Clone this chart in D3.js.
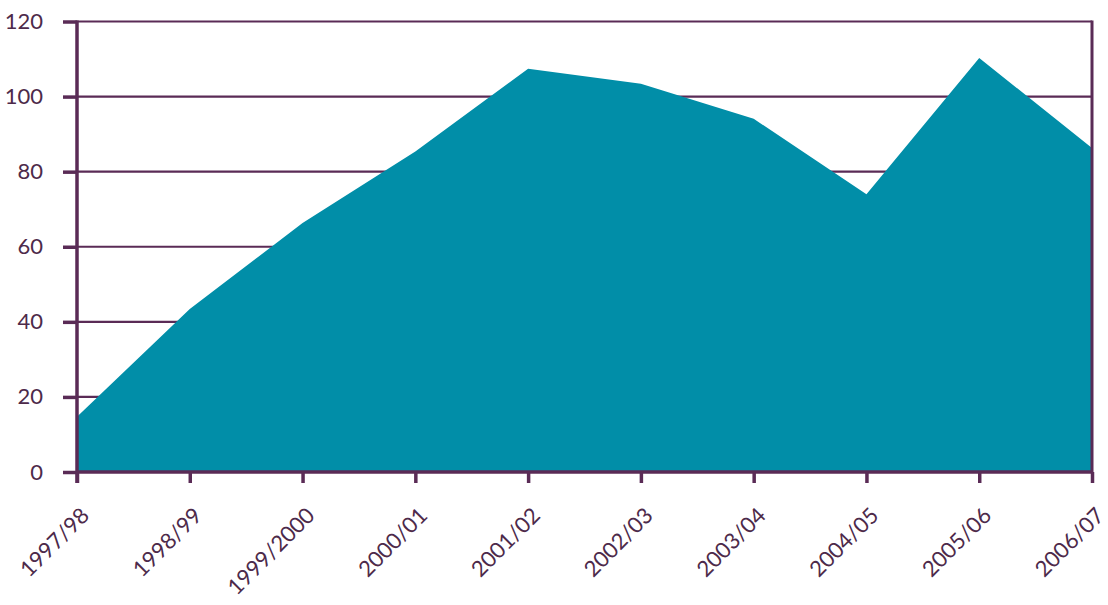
<!DOCTYPE html>
<html>
<head>
<meta charset="utf-8">
<script src="https://cdn.jsdelivr.net/npm/d3@7"></script>
<style>
  html, body { margin: 0; padding: 0; background: #fff; }
  svg text { font-family: Lato, "Open Sans", sans-serif; fill: #4d2a4a; }
</style>
</head>
<body>
<svg id="chart" width="1108" height="605"></svg>
<script>
const years = ["1997/98", "1998/99", "1999/2000", "2000/01", "2001/02",
               "2002/03", "2003/04", "2004/05", "2005/06", "2006/07"];
const values = [14.7, 43.4, 66.3, 85.4, 107.4, 103.4, 94.1, 74.0, 110.3, 86.3];
const yTicks = [0, 20, 40, 60, 80, 100, 120];

const axisColor = "#5a2b56";
const fillColor = "#018ea8";

const margin = { top: 21.5, right: 16, bottom: 133, left: 77 };
const width = 1108, height = 605;
const svg = d3.select("#chart");

const x = d3.scalePoint().domain(years).range([margin.left, width - margin.right]);
const y = d3.scaleLinear().domain([0, 120]).range([height - margin.bottom, margin.top]);

// horizontal grid lines
svg.append("g")
  .selectAll("line")
  .data(yTicks.filter(d => d > 0))
  .join("line")
  .attr("x1", margin.left).attr("x2", width - margin.right)
  .attr("y1", d => y(d)).attr("y2", d => y(d))
  .attr("stroke", axisColor).attr("stroke-width", 2.2);

// filled area
const area = d3.area()
  .x((d, i) => x(years[i]))
  .y0(y(0))
  .y1(d => y(d));
svg.append("path")
  .datum(values)
  .attr("d", area)
  .attr("fill", fillColor);

// right border
svg.append("line")
  .attr("x1", width - margin.right).attr("x2", width - margin.right)
  .attr("y1", y(120) - 1).attr("y2", y(0))
  .attr("stroke", axisColor).attr("stroke-width", 3);

// y axis
const yAxis = svg.append("g")
  .attr("transform", `translate(${margin.left},0)`)
  .call(d3.axisLeft(y).tickValues(yTicks).tickSize(14).tickPadding(20));
yAxis.select(".domain").attr("stroke", axisColor).attr("stroke-width", 3.5)
  .attr("d", `M0,${y(120) - 1}V${y(0) + 11}`);
yAxis.selectAll(".tick line").attr("stroke", axisColor).attr("stroke-width", 3.5);
yAxis.selectAll(".tick text").attr("font-size", 22).attr("fill", "#4d2a4a");

// x axis
const xAxis = svg.append("g")
  .attr("transform", `translate(0,${y(0)})`)
  .call(d3.axisBottom(x).tickSize(11).tickPadding(0));
xAxis.select(".domain").attr("stroke", axisColor).attr("stroke-width", 3.5)
  .attr("d", `M${margin.left},0H${width - margin.right}`);
xAxis.selectAll(".tick line").attr("stroke", axisColor).attr("stroke-width", 3.5);
xAxis.selectAll(".tick text")
  .attr("font-size", 22)
  .attr("fill", "#4d2a4a")
  .attr("text-anchor", "end")
  .attr("y", 0)
  .attr("dy", "0")
  .attr("transform", "translate(13,45) rotate(-45)");
</script>
</body>
</html>
